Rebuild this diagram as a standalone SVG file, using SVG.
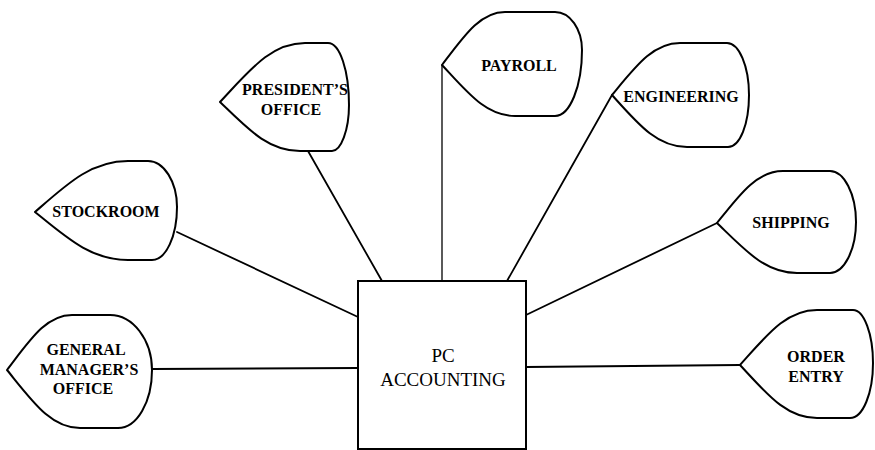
<svg xmlns="http://www.w3.org/2000/svg" width="875" height="450" viewBox="0 0 875 450">
<style>
.leaf{fill:#fff;stroke:#000;stroke-width:2;stroke-linejoin:round}
.lbl{font-family:"Liberation Serif","Times New Roman",serif;font-weight:bold;font-size:16px;fill:#000;text-anchor:middle}
.main{font-family:"Liberation Serif","Times New Roman",serif;font-size:19px;fill:#000;text-anchor:middle}
.conn line{stroke:#000;stroke-width:1.8;stroke-linecap:round}
</style>
<rect width="875" height="450" fill="#fff"/>
<g id="connectors" class="conn">
<line x1="152" y1="369" x2="358" y2="368"/>
<line x1="177" y1="232" x2="358" y2="317"/>
<line x1="308" y1="151" x2="382" y2="281"/>
<line x1="442" y1="65" x2="442" y2="281" style="stroke-width:1.3"/>
<line x1="612" y1="95" x2="507" y2="281"/>
<line x1="717" y1="223" x2="526" y2="315"/>
<line x1="526" y1="367" x2="740" y2="365"/>
</g>
<g id="pc-accounting">
<rect x="358" y="281" width="168" height="168" fill="#fff" stroke="#000" stroke-width="2"/>
<text class="main" x="443" y="362">PC</text>
<text class="main" x="443" y="386">ACCOUNTING</text>
</g>
<g id="general-managers-office">
<path class="leaf" d="M7,370 C30,340 46,315 72,315 L110,315 C133,315 152,340 152,370 C152,402 137,428 118,428 L80,428 C51,428 33,402 7,370 Z"/>
<text class="lbl" x="86" y="355">GENERAL</text>
<text class="lbl" x="89" y="375">MANAGER’S</text>
<text class="lbl" x="83" y="394">OFFICE</text>
</g>
<g id="stockroom">
<path class="leaf" d="M35,212 C67,184 91,161 128,161 L148,161 C164,161 177,182 177,207 C177,236 166,260 152,260 L128,260 C91,260 67,238 35,212 Z"/>
<text class="lbl" x="106" y="217">STOCKROOM</text>
</g>
<g id="presidents-office">
<path class="leaf" d="M220,102 C250,70 271,43 305,43 L328,43 C340,43 349,71 349,105 C349,130 341,151 332,151 L300,151 C268,151 248,129 220,102 Z"/>
<text class="lbl" x="295" y="95">PRESIDENT’S</text>
<text class="lbl" x="291" y="115">OFFICE</text>
</g>
<g id="payroll">
<path class="leaf" d="M442,65 C464,36 480,12 505,12 L555,12 C570,12 582,29 582,50 C582,86 570,116 555,116 L515,116 C486,116 468,93 442,65 Z"/>
<text class="lbl" x="519" y="71">PAYROLL</text>
</g>
<g id="engineering">
<path class="leaf" d="M612,95 C636,66 653,43 680,43 L727,43 C739,43 749,66 749,95 C749,124 740,147 728,147 L687,147 C657,147 638,124 612,95 Z"/>
<text class="lbl" x="681" y="102">ENGINEERING</text>
</g>
<g id="shipping">
<path class="leaf" d="M717,223 C740,194 757,171 783,171 L830,171 C844,171 856,194 856,222 C856,250 844,273 830,273 L797,273 C765,273 745,250 717,223 Z"/>
<text class="lbl" x="791" y="228">SHIPPING</text>
</g>
<g id="order-entry">
<path class="leaf" d="M740,365 C767,335 786,310 817,310 L853,310 C864,310 873,334 873,363 C873,393 863,418 850,418 L817,418 C786,418 767,394 740,365 Z"/>
<text class="lbl" x="816" y="362">ORDER</text>
<text class="lbl" x="816" y="382">ENTRY</text>
</g>
</svg>
